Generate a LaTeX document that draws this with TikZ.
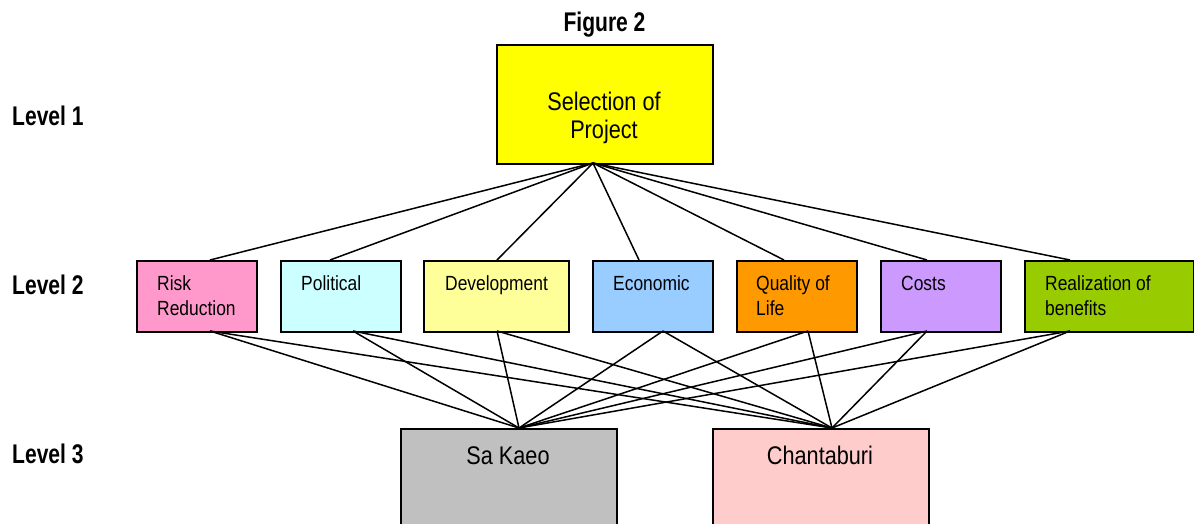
\documentclass[tikz,border=0pt]{standalone}
\usepackage{fontspec}
\setmainfont[FakeStretch=0.85]{Liberation Sans}
\newfontfamily\lblfont[FakeStretch=0.78]{Liberation Sans}
\usetikzlibrary{calc}
\definecolor{ctop}{HTML}{FFFF00}
\definecolor{crisk}{HTML}{FF99CC}
\definecolor{cpol}{HTML}{CCFFFF}
\definecolor{cdev}{HTML}{FFFF99}
\definecolor{cecon}{HTML}{99CCFF}
\definecolor{cqual}{HTML}{FF9900}
\definecolor{ccost}{HTML}{CC99FF}
\definecolor{creal}{HTML}{99CC00}
\definecolor{csak}{HTML}{C0C0C0}
\definecolor{cchan}{HTML}{FFCCCC}
\begin{document}
\begin{tikzpicture}[x=1pt,y=-1pt,
  box/.style={draw=black, line width=2pt, inner sep=0pt, anchor=north west, minimum height=71pt, minimum width=120pt},
  bigbox/.style={box, minimum width=216pt, minimum height=119pt},
  l2txt/.style={inner sep=0pt, anchor=base west, align=left, font=\fontsize{20.5}{24.3}\selectfont},
  l2two/.style={l2txt, yshift=-24.3pt},
  bigtxt/.style={inner sep=0pt, anchor=base, align=center, font=\fontsize{25.5}{28}\selectfont},
  lvl/.style={inner sep=0pt, anchor=base west, font=\lblfont\bfseries\fontsize{27}{30}\selectfont},
  conn/.style={draw=black, line width=1.5pt}]
\useasboundingbox (0,0) rectangle (1194,523);
\clip (0,0) rectangle (1194,523);

% titles and level labels
\node[lvl, anchor=base] (fig) at (604.5,31.7) {Figure 2};
\node[lvl] (lv1) at (12,125.7) {Level 1};
\node[lvl] (lv2) at (12,294) {Level 2};
\node[lvl] (lv3) at (12,463.3) {Level 3};

% level 1
\node[bigbox, fill=ctop] (top) at (496,44) {};
\node[bigtxt, yshift=-28pt] (topt) at (604,110.5) {Selection of\\Project};

% level 2
\node[box, fill=crisk] (risk) at (136,260) {};
\node[box, fill=cpol] (pol) at (280,260) {};
\node[box, fill=cdev, minimum width=145pt] (dev) at (423,260) {};
\node[box, fill=cecon] (econ) at (592,260) {};
\node[box, fill=cqual] (qual) at (736,260) {};
\node[box, fill=ccost] (cost) at (880,260) {};
\node[box, fill=creal, minimum width=169pt] (real) at (1024,260) {};

\node[l2two] (riskt) at ($(risk.north west)+(21,30.7)$) {Risk\\Reduction};
\node[l2txt] (polt) at ($(pol.north west)+(21,30.7)$) {Political};
\node[l2txt] (devt) at ($(dev.north west)+(22,30.7)$) {Development};
\node[l2txt] (econt) at ($(econ.north west)+(21,30.7)$) {Economic};
\node[l2two] (qualt) at ($(qual.north west)+(20,30.7)$) {Quality of\\Life};
\node[l2txt] (costt) at ($(cost.north west)+(21,30.7)$) {Costs};
\node[l2two] (realt) at ($(real.north west)+(21,30.7)$) {Realization of\\benefits};

% level 3
\node[bigbox, fill=csak, minimum height=130pt] (sak) at (400,428) {};
\node[bigbox, fill=cchan, minimum height=130pt] (chan) at (712,428) {};
\node[bigtxt] (sakt) at (508,464) {Sa Kaeo};
\node[bigtxt] (chant) at (820,464) {Chantaburi};

% connection points
\coordinate (T) at (593,163);
\coordinate (S) at (519,428);
\coordinate (C) at (832,428);
\coordinate (riskU) at (210,260); \coordinate (riskD) at (210,331);
\coordinate (polU) at (330,260);  \coordinate (polD) at (353,331);
\coordinate (devU) at (497,260);  \coordinate (devD) at (497,331);
\coordinate (econU) at (639,260); \coordinate (econD) at (663,331);
\coordinate (qualU) at (784,260); \coordinate (qualD) at (808,331);
\coordinate (costU) at (927,260); \coordinate (costD) at (927,331);
\coordinate (realU) at (1070,260); \coordinate (realD) at (1070,331);

\foreach \n in {risk,pol,dev,econ,qual,cost,real}{
  \draw[conn] (T) -- (\n U);
  \draw[conn] (\n D) -- (S);
  \draw[conn] (\n D) -- (C);
}
\end{tikzpicture}
\end{document}
